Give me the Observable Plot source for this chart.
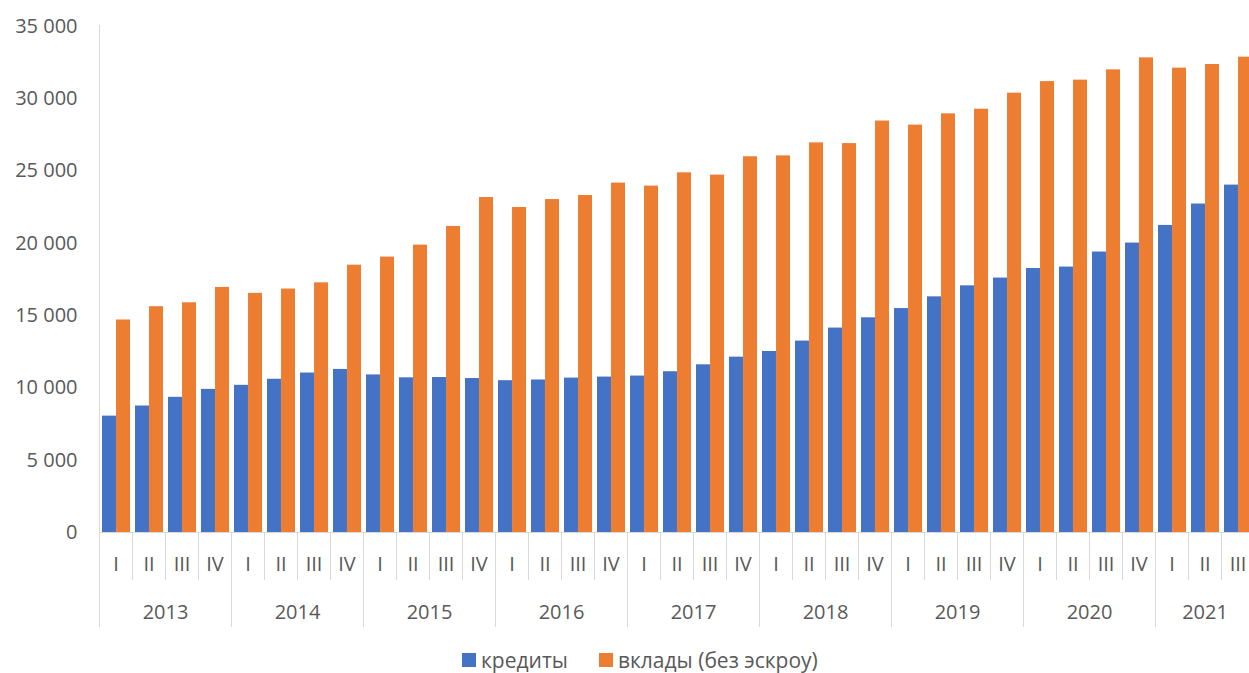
<!DOCTYPE html>
<html>
<head>
<meta charset="utf-8">
<script src="https://cdn.jsdelivr.net/npm/d3@7"></script>
<script src="https://cdn.jsdelivr.net/npm/@observablehq/plot@0.6"></script>
<style>
  html, body { margin: 0; padding: 0; background: #fff; overflow: hidden; width: 1249px; height: 673px; }
  #wrap { position: relative; width: 1249px; height: 673px; overflow: hidden; font-family: "Open Sans", sans-serif; }
  #chart svg { display: block; }
  #legend { position: absolute; left: 462px; top: 646px; display: flex; align-items: center; font-size: 21px; color: #595959; white-space: nowrap; }
  #legend .sw { width: 14px; height: 14px; display: inline-block; margin-right: 5px; }
  #legend .item { display: flex; align-items: center; margin-right: 31px; }
</style>
</head>
<body>
<div id="wrap">
  <div id="chart"></div>
  <div id="legend"></div>
</div>
<script>
// ---- data ----
const years = [2013, 2014, 2015, 2016, 2017, 2018, 2019, 2020, 2021];
const quarterLabels = ["I", "II", "III", "IV"];
const yTicks = [0, 5000, 10000, 15000, 20000, 25000, 30000, 35000];
const seriesNames = ["кредиты", "вклады (без эскроу)"];
const seriesColors = ["#4472C4", "#ED7D31"];
// кредиты
const credits = [
  8050, 8750, 9350, 9900,
  10180, 10600, 11030, 11280,
  10900, 10700, 10720, 10650,
  10500, 10550, 10680, 10750,
  10820, 11120, 11600, 12130,
  12520, 13240, 14140, 14850,
  15490, 16300, 17060, 17600,
  18260, 18360, 19400, 20020,
  21240, 22720, 24030
];
// вклады (без эскроу)
const deposits = [
  14700, 15620, 15890, 16950,
  16540, 16840, 17270, 18490,
  19050, 19880, 21170, 23170,
  22480, 23030, 23310, 24170,
  23960, 24880, 24720, 25990,
  26050, 26950, 26900, 28460,
  28180, 28960, 29280, 30390,
  31190, 31290, 32000, 32830,
  32120, 32370, 32880
];

// ---- table built from arrays ----
const rows = credits.map((c, i) => ({
  key: years[Math.floor(i / 4)] + "-" + quarterLabels[i % 4],
  year: years[Math.floor(i / 4)],
  q: quarterLabels[i % 4],
  credit: c,
  deposit: deposits[i]
}));
const keys = rows.map(d => d.key);

const PAD = 0.15;
const textColor = "#595959";
const lineColor = "#d9d9d9";

function categoryAxis(index, scales, values, dims) {
  const x = scales.x, y = scales.y;
  const step = x(keys[1]) - x(keys[0]);
  const bw = step * (1 - PAD);
  const y0 = y(0);
  const g = d3.create("svg:g");
  const left = k => x(k) + bw / 2 - step / 2;
  const center = k => x(k) + bw / 2;
  const x0 = left(keys[0]);
  // vertical axis line
  g.append("line")
    .attr("x1", x0).attr("x2", x0)
    .attr("y1", y(35000) - 1).attr("y2", y0 + 95)
    .attr("stroke", lineColor);
  // baseline
  g.append("line")
    .attr("x1", x0).attr("x2", dims.width)
    .attr("y1", y0 + 0.5).attr("y2", y0 + 0.5)
    .attr("stroke", lineColor);
  rows.forEach((d, i) => {
    if (i > 0) {
      g.append("line")
        .attr("x1", left(d.key)).attr("x2", left(d.key))
        .attr("y1", y0).attr("y2", d.q === "I" ? y0 + 95 : y0 + 48)
        .attr("stroke", lineColor);
    }
    g.append("text")
      .attr("x", center(d.key)).attr("y", y0 + 31)
      .attr("text-anchor", "middle").attr("dominant-baseline", "central")
      .attr("fill", textColor)
      .text(d.q);
  });
  years.forEach(yr => {
    const ks = rows.filter(d => d.year === yr).map(d => center(d.key));
    g.append("text")
      .attr("x", d3.mean(ks)).attr("y", y0 + 79)
      .attr("text-anchor", "middle").attr("dominant-baseline", "central")
      .attr("fill", textColor)
      .text(yr);
  });
  return g.node();
}

const fmt = v => d3.format(",")(v).replace(/,/g, " ");

const chart = Plot.plot({
  width: 1249,
  height: 640,
  marginLeft: 100,
  marginRight: 0,
  marginTop: 26,
  marginBottom: 108,
  style: { fontSize: "20px", fontFamily: "'Open Sans', sans-serif", color: textColor, background: "#fff" },
  x: { domain: keys, type: "band", range: [100, 1255], paddingInner: PAD, paddingOuter: PAD / 2, axis: null },
  y: { domain: [0, 35000], axis: null },
  marks: [
    Plot.axisY({ ticks: yTicks, tickSize: 0, tickPadding: 23, tickFormat: fmt, fill: textColor, fontSize: 20 }),
    Plot.barY(rows, { x: "key", y: "credit", fill: seriesColors[0], insetRight: 14.03 }),
    Plot.barY(rows, { x: "key", y: "deposit", fill: seriesColors[1], insetLeft: 14.03 }),
    categoryAxis
  ]
});
document.getElementById("chart").appendChild(chart);

const legend = document.getElementById("legend");
seriesNames.forEach((n, i) => {
  const item = document.createElement("span");
  item.className = "item";
  const sw = document.createElement("span");
  sw.className = "sw";
  sw.style.background = seriesColors[i];
  item.appendChild(sw);
  item.appendChild(document.createTextNode(n));
  legend.appendChild(item);
});
</script>
</body>
</html>
